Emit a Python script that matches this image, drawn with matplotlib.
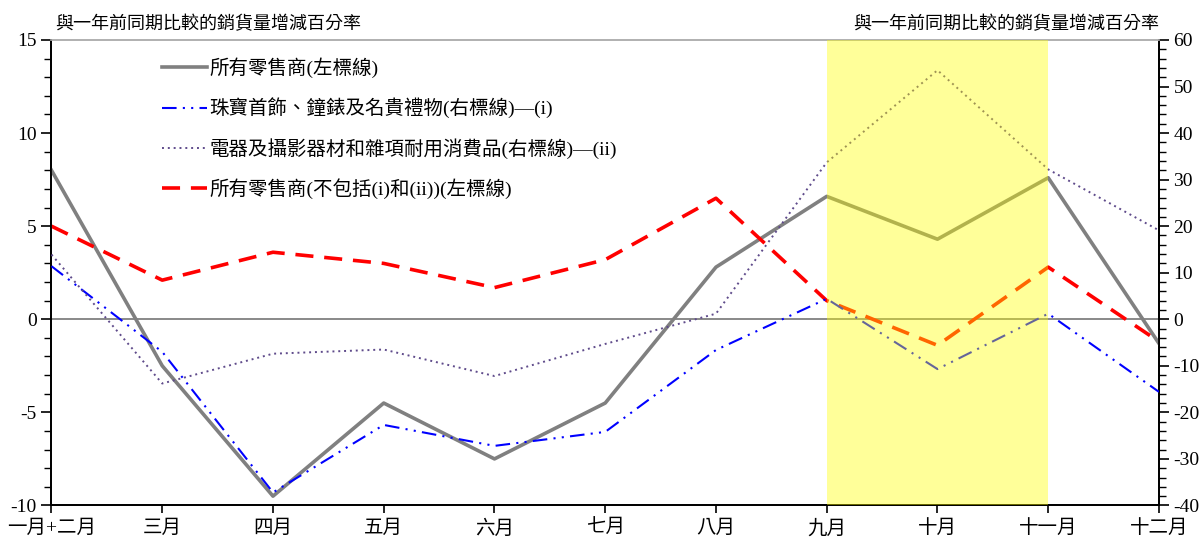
import numpy as np
import matplotlib
matplotlib.use('Agg')
import matplotlib.pyplot as plt
from matplotlib.ticker import MultipleLocator

plt.rcParams['font.family'] = ['Liberation Serif', 'Noto Sans CJK TC']
plt.rcParams['axes.unicode_minus'] = False

# 數據
months = ['一月+二月', '三月', '四月', '五月', '六月', '七月',
          '八月', '九月', '十月', '十一月', '十二月']
all_retail = [8.0, -2.5, -9.5, -4.5, -7.5, -4.5, 2.8, 6.6, 4.3, 7.6, -1.3]
jewellery = [11.4, -7.0, -37.2, -22.7, -27.2, -24.2, -6.6, 4.4, -10.7, 1.2, -15.6]
electrical = [13.9, -13.8, -7.4, -6.5, -12.2, -5.3, 1.2, 33.7, 53.5, 32.2, 19.1]
retail_excl = [5.0, 2.1, 3.6, 3.0, 1.7, 3.2, 6.5, 1.0, -1.4, 2.8, -1.2]

labels = ['所有零售商(左標線)',
          '珠寶首飾、鐘錶及名貴禮物(右標線)—(i)',
          '電器及攝影器材和雜項耐用消費品(右標線)—(ii)',
          '所有零售商(不包括(i)和(ii))(左標線)']
axis_title = '與一年前同期比較的銷貨量增減百分率'

x = np.arange(len(months))

fig = plt.figure(figsize=(12.03, 5.38), dpi=100)
ax = fig.add_axes([0.0428, 0.0605, 0.9206, 0.8652])
ax2 = ax.twinx()

# 零線
ax.axhline(0, color='#808080', lw=1.3, zorder=1)

l1, = ax.plot(x, all_retail, color='#808080', lw=2.6, zorder=3, label=labels[0])
l4, = ax.plot(x, retail_excl, color='red', lw=2.6, ls=(0, (5, 3)), zorder=3,
              label=labels[3])
l2, = ax2.plot(x, jewellery, color='blue', lw=1.5, ls=(0, (7, 3, 1, 3, 1, 3)),
               zorder=3, label=labels[1])
l3, = ax2.plot(x, electrical, color='#5f4b8b', lw=1.4, ls=(0, (1, 2)),
               zorder=3, label=labels[2])

# 黃色陰影
ax2.axvspan(7, 9, color='yellow', alpha=0.4, lw=0, zorder=5)

ax.set_xlim(0, 10)
ax.set_ylim(-10, 15)
ax2.set_ylim(-40, 60)

ax.set_xticks(x)
ax.set_xticklabels(months, fontsize=14)
ax.yaxis.set_major_locator(MultipleLocator(5))
ax.yaxis.set_minor_locator(MultipleLocator(1))
ax2.yaxis.set_major_locator(MultipleLocator(10))
ax2.yaxis.set_minor_locator(MultipleLocator(2))

ax.tick_params(axis='x', direction='out', length=6, width=1.2, labelsize=14, pad=4)
ax.tick_params(axis='y', which='major', direction='out', length=7, width=1.2,
               labelsize=14)
ax.tick_params(axis='y', which='minor', direction='out', length=5, width=1.0)
ax2.tick_params(axis='y', which='major', direction='out', length=7, width=1.2,
                labelsize=14)
ax2.tick_params(axis='y', which='minor', direction='out', length=5, width=1.0)

for a in (ax, ax2):
    for s in ('left', 'right', 'bottom'):
        a.spines[s].set_color('black')
        a.spines[s].set_linewidth(1.3)
    a.spines['top'].set_color('#b0b0b0')
    a.spines['top'].set_linewidth(1.2)

ax.text(0.003, 1.015, axis_title, transform=ax.transAxes, fontsize=13,
        ha='left', va='bottom')
ax2.text(1.0, 1.015, axis_title, transform=ax.transAxes, fontsize=13,
         ha='right', va='bottom')

leg = ax2.legend(handles=[l1, l2, l3, l4], loc='upper left',
                 bbox_to_anchor=(0.084, 1.0), frameon=False, fontsize=14,
                 handlelength=2.3, handletextpad=0.15, labelspacing=1.0)
leg.set_zorder(10)

fig.savefig('out.png', dpi=100)
